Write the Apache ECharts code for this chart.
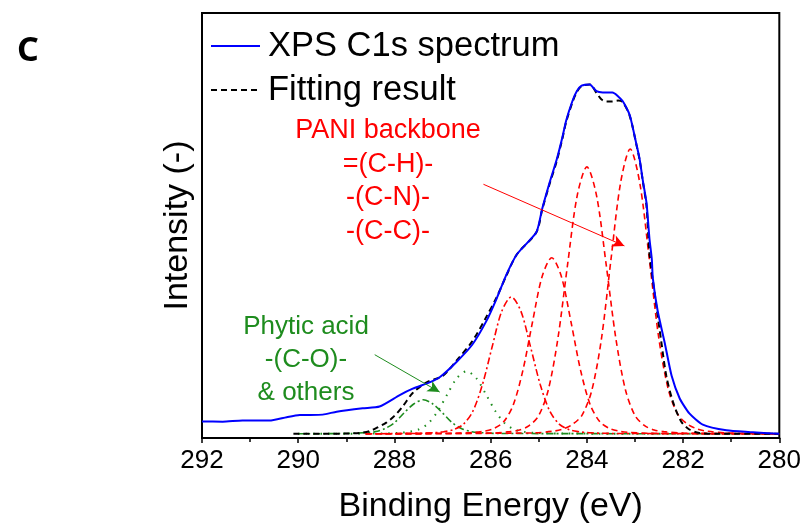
<!DOCTYPE html>
<html>
<head>
<meta charset="utf-8">
<script src="https://cdn.jsdelivr.net/npm/echarts@6/dist/echarts.min.js"></script>
<style>
  html, body { margin: 0; padding: 0; background: #ffffff; }
  #chart { width: 804px; height: 529px; }
</style>
</head>
<body>
<div id="chart"></div>
<script>
// XPS C1s spectrum of PANI / phytic acid, binding energy (eV) vs intensity (a.u.)
const xpsEnergy    = [292.0, 291.57, 291.16, 290.6, 290.24, 289.97, 289.49, 289.2, 288.66, 288.31, 287.89, 287.62, 287.27, 287.06, 286.71, 286.38, 286.09, 285.88, 285.67, 285.45, 285.05, 284.93, 284.78, 284.63, 284.51, 284.43, 284.3, 284.21, 284.11, 283.94, 283.8, 283.67, 283.47, 283.26, 283.11, 282.97, 282.9, 282.84, 282.76, 282.7, 282.65, 282.63, 282.53, 282.38, 282.24, 282.07, 281.87, 281.59, 281.1, 280.62, 280.0];
const xpsIntensity = [3.9, 3.85, 4.1, 4.1, 4.9, 5.4, 5.5, 6.2, 7.0, 7.4, 10.1, 11.6, 13.1, 14.3, 17.9, 22.0, 27.5, 32.7, 38.5, 43.3, 48.4, 53.9, 59.9, 65.4, 70.7, 74.7, 79.3, 81.6, 82.9, 83.2, 81.6, 81.3, 81.3, 79.3, 76.0, 69.1, 65.4, 60.8, 55.3, 47.0, 42.0, 37.7, 30.0, 22.3, 14.7, 9.3, 5.8, 3.15, 1.8, 1.4, 1.0];

// Envelope of the peak fit
const fitEnergy    = [290.1, 289.5, 289.0, 288.7, 288.52, 288.35, 288.17, 288.0, 287.83, 287.62, 287.33, 287.0, 286.71, 286.38, 286.09, 285.88, 285.67, 285.45, 285.05, 284.93, 284.78, 284.63, 284.51, 284.43, 284.3, 284.21, 284.11, 283.94, 283.8, 283.7, 283.6, 283.47, 283.35, 283.26, 283.11, 282.97, 282.9, 282.84, 282.76, 282.7, 282.59, 282.45, 282.35, 282.21, 282.04, 281.87, 281.66, 281.3, 280.0];
const fitIntensity = [1.0, 1.0, 1.05, 1.2, 1.6, 2.5, 3.6, 5.2, 7.4, 10.6, 13.1, 14.6, 18.2, 22.8, 28.5, 33.0, 38.3, 43.3, 48.4, 53.7, 59.6, 65.0, 70.4, 74.4, 79.0, 81.4, 82.8, 83.2, 81.2, 79.7, 79.2, 79.2, 79.4, 79.1, 75.8, 69.0, 65.2, 60.6, 54.5, 43.5, 33.9, 22.4, 14.7, 8.5, 3.9, 2.0, 1.2, 1.0, 1.0];

// Fitted components: C-O (phytic acid) and other oxygenated carbon
const coEnergy     = [290.0, 288.5, 288.1, 287.9, 287.7, 287.5, 287.3, 287.1, 286.9, 286.7, 286.5, 286.3, 286.1, 285.9, 285.7, 285.5, 285.3, 285.1, 284.9, 284.5, 280.0];
const coIntensity  = [1.0, 1.04, 1.12, 1.22, 1.44, 2.0, 3.4, 6.3, 10.3, 14.1, 15.7, 14.1, 10.3, 6.3, 3.4, 2.0, 1.44, 1.22, 1.12, 1.04, 1.0];
const othEnergy    = [290.0, 289.0, 288.6, 288.4, 288.2, 288.0, 287.8, 287.6, 287.4, 287.2, 287.0, 286.8, 286.6, 286.4, 286.2, 285.8, 280.0];
const othIntensity = [1.0, 1.06, 1.26, 1.5, 2.2, 3.6, 5.9, 8.0, 9.0, 8.0, 5.9, 3.6, 2.2, 1.5, 1.26, 1.06, 1.0];

// PANI backbone components
const p1Energy     = [288.6, 287.57, 287.17, 286.97, 286.77, 286.57, 286.37, 286.17, 285.97, 285.77, 285.57, 285.37, 285.17, 284.97, 284.77, 284.57, 284.37, 284.17, 283.97, 283.57, 280.0];
const p1Intensity  = [1.0, 1.08, 1.26, 1.48, 1.97, 3.2, 6.3, 12.6, 21.4, 29.8, 33.2, 29.8, 21.4, 12.6, 6.3, 3.2, 1.97, 1.48, 1.26, 1.08, 1.0];
const p2Energy     = [288.6, 286.73, 286.33, 286.13, 285.93, 285.73, 285.53, 285.33, 285.13, 284.93, 284.73, 284.53, 284.33, 284.13, 283.93, 283.73, 283.53, 283.33, 283.13, 282.73, 280.0];
const p2Intensity  = [1.0, 1.1, 1.33, 1.62, 2.24, 3.8, 7.8, 15.9, 27.3, 38.0, 42.4, 38.0, 27.3, 15.9, 7.8, 3.8, 2.24, 1.62, 1.33, 1.1, 1.0];
const p3Energy     = [288.6, 286.0, 285.6, 285.4, 285.2, 285.0, 284.8, 284.6, 284.4, 284.2, 284.0, 283.8, 283.6, 283.4, 283.2, 283.0, 282.8, 282.6, 282.4, 282.0, 280.0];
const p3Intensity  = [1.0, 1.15, 1.5, 1.9, 2.9, 5.3, 11.4, 23.6, 40.9, 57.1, 63.8, 57.1, 40.9, 23.6, 11.4, 5.3, 2.9, 1.9, 1.5, 1.15, 1.0];
const p4Energy     = [288.6, 285.1, 284.7, 284.5, 284.3, 284.1, 283.9, 283.7, 283.5, 283.3, 283.1, 282.9, 282.7, 282.5, 282.3, 282.1, 281.9, 281.7, 281.5, 281.1, 280.0];
const p4Intensity  = [1.0, 1.2, 1.6, 2.1, 3.2, 5.4, 11.1, 23.1, 41.9, 60.0, 68.0, 60.0, 41.9, 23.1, 11.1, 5.4, 3.2, 2.1, 1.6, 1.2, 1.0];

// Axis ticks (binding energy, eV)
const energyTicks = [292, 290, 288, 286, 284, 282, 280];

const zip = (xs, ys) => xs.map((x, i) => [x, ys[i]]);

const FONT = '"Liberation Sans", Arial, sans-serif';
const RED = '#ff0000';
const GREEN = '#1e8c1e';
const DASH = [6, 4];
const DASHDOT = [7, 3, 2, 3];

const chart = echarts.init(document.getElementById('chart'), null, { renderer: 'canvas' });

function component(name, data, color, type, width) {
  return {
    name, type: 'line', data, symbol: 'none', smooth: 0.3,
    lineStyle: { color, type, width: width || 1.6 }, silent: true, z: 2
  };
}

const option = {
  animation: false,
  backgroundColor: '#ffffff',
  grid: { left: 202, right: 24, top: 13, bottom: 82, show: true, borderColor: '#000', borderWidth: 2, backgroundColor: 'transparent' },
  legend: {
    data: ['XPS C1s spectrum', 'Fitting result'],
    orient: 'vertical', left: 205, top: 22,
    itemWidth: 49, itemHeight: 14, itemGap: 6,
    itemStyle: { opacity: 0 },
    textStyle: { fontFamily: FONT, fontSize: 34.5, color: '#000', lineHeight: 38, padding: [0, 0, 0, 3] },
    selectedMode: false
  },
  xAxis: {
    type: 'value', inverse: true, min: 280, max: 292, interval: 2,
    name: 'Binding Energy (eV)', nameLocation: 'middle', nameGap: 52,
    nameTextStyle: { fontFamily: FONT, fontSize: 34, color: '#000' },
    axisLine: { show: true, onZero: false, lineStyle: { color: '#000', width: 2 } },
    axisTick: { show: true, inside: false, length: 5, lineStyle: { color: '#000', width: 1.5 } },
    minorTick: { show: true, splitNumber: 2, length: 4, lineStyle: { color: '#000', width: 1.5 } },
    axisLabel: { fontFamily: FONT, fontSize: 26, color: '#000', margin: 10,
      customValues: energyTicks },
    splitLine: { show: false }
  },
  yAxis: {
    type: 'value', min: 0, max: 100,
    name: 'Intensity (-)', nameLocation: 'middle', nameGap: 7,
    nameTextStyle: { fontFamily: FONT, fontSize: 34, color: '#000' },
    axisLine: { show: true, lineStyle: { color: '#000', width: 2 } },
    axisTick: { show: false }, axisLabel: { show: false }, splitLine: { show: false }
  },
  series: [
    component('C-O', zip(coEnergy, coIntensity), GREEN, [1.5, 6], 2),
    component('others', zip(othEnergy, othIntensity), GREEN, DASHDOT),
    component('PANI 1', zip(p1Energy, p1Intensity), RED, DASHDOT),
    component('PANI 2', zip(p2Energy, p2Intensity), RED, DASH),
    component('PANI 3', zip(p3Energy, p3Intensity), RED, DASH),
    component('PANI 4', zip(p4Energy, p4Intensity), RED, DASH),
    {
      name: 'Fitting result', type: 'line', data: zip(fitEnergy, fitIntensity), symbol: 'none',
      smooth: 0.3, silent: true, z: 3,
      itemStyle: { color: '#000' },
      lineStyle: { color: '#000', type: DASH, width: 2 }
    },
    {
      name: 'XPS C1s spectrum', type: 'line', data: zip(xpsEnergy, xpsIntensity), symbol: 'none',
      smooth: 0.2, silent: true, z: 4,
      itemStyle: { color: '#0000ff' },
      lineStyle: { color: '#0000ff', width: 2 },
      markLine: {
        silent: true, symbol: ['none', 'arrow'], symbolSize: [9, 12], label: { show: false },
        data: [
          [{ coord: [286.15, 59.7], lineStyle: { color: RED, width: 1, type: 'solid' } }, { coord: [283.22, 45.2] }],
          [{ coord: [288.41, 19.6], lineStyle: { color: GREEN, width: 1, type: 'solid' } }, { coord: [287.06, 10.8] }]
        ]
      }
    }
  ],
  graphic: [
    { type: 'text', x: 17, y: 34, style: { text: 'C', font: 'bold 34px "Noto Sans", sans-serif', fill: '#000' } },
    { type: 'text', x: 388, y: 114, style: { text: 'PANI backbone\n=(C-H)-\n-(C-N)-\n-(C-C)-', font: '27px ' + FONT, fill: RED, align: 'center', lineHeight: 33.5 } },
    { type: 'text', x: 306, y: 310, style: { text: 'Phytic acid\n-(C-O)-\n& others', font: '26px ' + FONT, fill: GREEN, align: 'center', lineHeight: 33 } }
  ]
};

chart.setOption(option);
</script>
</body>
</html>
